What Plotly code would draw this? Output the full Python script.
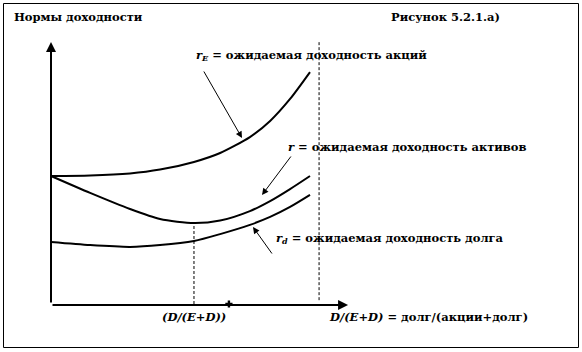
import plotly.graph_objects as go

# ---------------- data (schematic) ----------------
leverage = [0.0, 0.151, 0.305, 0.421, 0.552, 0.653, 0.768, 0.846, 0.923, 1.0]
r_equity = [0.500, 0.502, 0.510, 0.525, 0.555, 0.590, 0.652, 0.715, 0.801, 0.906]
r_assets = [0.500, 0.434, 0.371, 0.332, 0.316, 0.326, 0.363, 0.402, 0.449, 0.500]
r_debt = [0.242, 0.230, 0.223, 0.230, 0.246, 0.273, 0.309, 0.340, 0.379, 0.426]
optimal_leverage = 0.552
right_limit = 1.035
axis_x_end = 1.147
axis_y_end = 1.023
tick_mark_x = 0.687

title_left = "Нормы доходности"
title_right = "Рисунок 5.2.1.а)"
label_equity = "<i>r<sub>E</sub></i> = ожидаемая доходность акций"
label_assets = "<i>r</i> = ожидаемая доходность активов"
label_debt = "<i>r<sub>d</sub></i> = ожидаемая доходность долга"
label_opt = "<i>(D/(E+D))</i>"
label_xaxis = "<i>D/(E+D)</i> = долг/(акции+долг)"

# ---------------- layout helpers ----------------
W, H = 582, 352
X0_PX, X1_PX, Y0_PX, Y1_PX = 51, 310, 304, 48
SX = X1_PX - X0_PX
SY = Y0_PX - Y1_PX


def dx(px):
    return (px - X0_PX) / SX


def dy(py):
    return (Y0_PX - py) / SY


FONT = dict(family="DejaVu Serif", size=11.5, color="black")

fig = go.Figure()
for ys in (r_equity, r_assets, r_debt):
    fig.add_trace(go.Scatter(x=leverage, y=ys, mode="lines",
                             line=dict(color="black", width=2, shape="spline", smoothing=0.7),
                             hoverinfo="skip", showlegend=False))

# dashed verticals
fig.add_trace(go.Scatter(x=[optimal_leverage, optimal_leverage], y=[0, min(r_assets)], mode="lines",
                         line=dict(color="black", width=1, dash="3px,2px"), showlegend=False))
fig.add_trace(go.Scatter(x=[right_limit, right_limit], y=[0.015, axis_y_end], mode="lines",
                         line=dict(color="black", width=1, dash="3px,2px"), showlegend=False))
# small tick mark on x axis
fig.add_trace(go.Scatter(x=[tick_mark_x], y=[0], mode="markers",
                         marker=dict(symbol="cross", size=6, color="black"), showlegend=False))

ann = []
# axes arrows
ann.append(dict(x=0, y=axis_y_end, ax=0, ay=0, xref="x", yref="y", axref="x", ayref="y",
                showarrow=True, arrowhead=2, arrowsize=1, arrowwidth=2, arrowcolor="black", text="", standoff=0))
ann.append(dict(x=axis_x_end, y=-0.004, ax=0, ay=-0.004, xref="x", yref="y", axref="x", ayref="y",
                showarrow=True, arrowhead=2, arrowsize=1, arrowwidth=2, arrowcolor="black", text="", standoff=0))
# label arrows
for (tx, ty, hx, hy) in [(dx(203), dy(70), dx(242), dy(138)),
                         (dx(292), dy(155), dx(262), dy(195)),
                         (dx(273), dy(255), dx(253), dy(227))]:
    ann.append(dict(x=hx, y=hy, ax=tx, ay=ty, xref="x", yref="y", axref="x", ayref="y",
                    showarrow=True, arrowhead=2, arrowsize=1.3, arrowwidth=1, arrowcolor="black",
                    text="", standoff=0))


# texts
def txt(text, px, py, anchor="left"):
    return dict(x=dx(px), y=dy(py), xref="x", yref="y", text=text, showarrow=False,
                xanchor=anchor, yanchor="middle", font=FONT)


ann += [
    dict(x=12 / W, y=1 - 17 / H, xref="paper", yref="paper", text="<b>%s</b>" % title_left,
         showarrow=False, xanchor="left", yanchor="middle", font=FONT),
    dict(x=389 / W, y=1 - 17 / H, xref="paper", yref="paper", text="<b>%s</b>" % title_right,
         showarrow=False, xanchor="left", yanchor="middle", font=FONT),
    txt("<b>%s</b>" % label_equity, 194, 55),
    txt("<b>%s</b>" % label_assets, 286, 147),
    txt("<b>%s</b>" % label_debt, 274, 238),
    dict(x=optimal_leverage, y=dy(317), xref="x", yref="y", text="<b>%s</b>" % label_opt,
         showarrow=False, xanchor="center", yanchor="middle", font=FONT),
    txt("<b>%s</b>" % label_xaxis, 327, 317),
]

fig.update_layout(
    width=W, height=H, margin=dict(l=0, r=0, t=0, b=0),
    paper_bgcolor="white", plot_bgcolor="white",
    xaxis=dict(range=[dx(0), dx(W)], visible=False, fixedrange=True),
    yaxis=dict(range=[dy(H), dy(0)], visible=False, fixedrange=True),
    annotations=ann,
    shapes=[dict(type="rect", xref="paper", yref="paper", x0=3.5 / W, x1=578.5 / W,
                 y0=1 - 347.5 / H, y1=1 - 3.5 / H, line=dict(color="black", width=1))],
    showlegend=False,
)
fig.write_html("out.html", config={"displayModeBar": False})
